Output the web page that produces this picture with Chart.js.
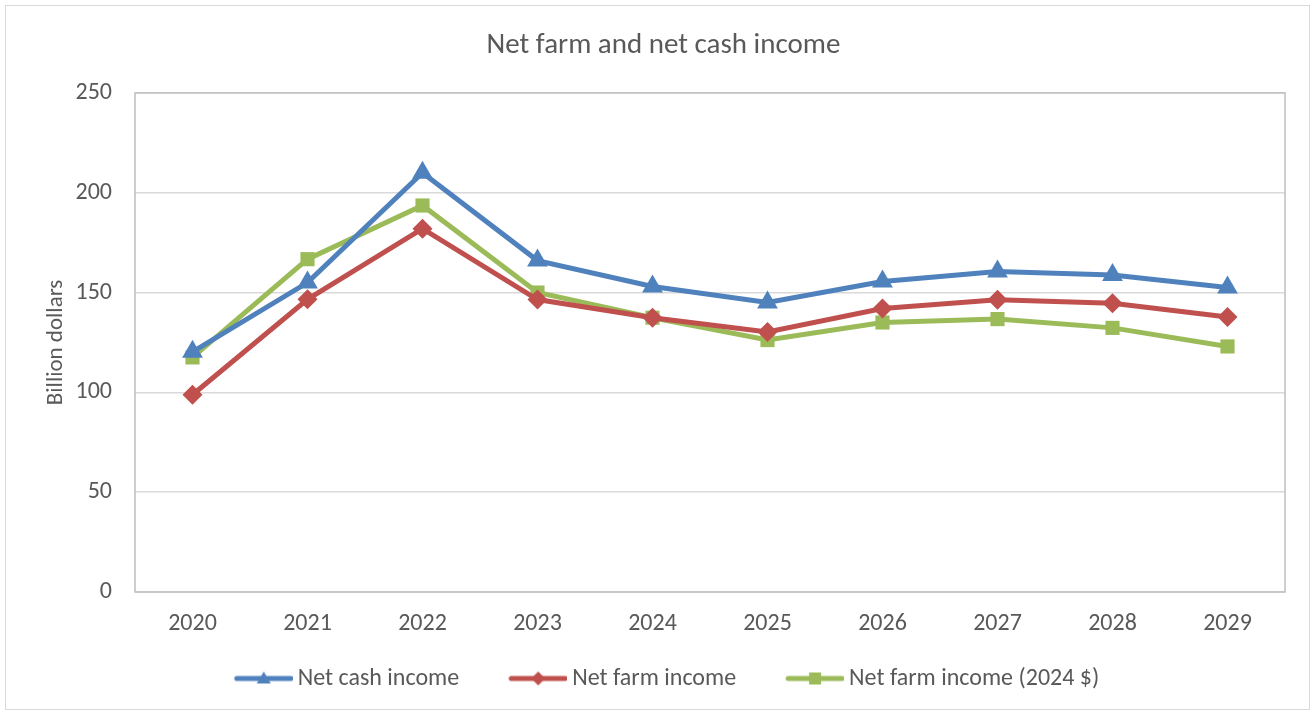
<!DOCTYPE html>
<html>
<head>
<meta charset="utf-8">
<title>Net farm and net cash income</title>
<script src="https://cdn.jsdelivr.net/npm/chart.js@4.4.0/dist/chart.umd.min.js"></script>
<style>
  html, body { margin: 0; padding: 0; background: #fff; }
  #wrap { width: 1315px; height: 715px; }
</style>
</head>
<body>
<div id="wrap"><canvas id="incomeChart" width="1315" height="715"></canvas></div>
<script>
// billion dollars, by year
const years = ["2020", "2021", "2022", "2023", "2024", "2025", "2026", "2027", "2028", "2029"];
const netCashIncome = [120.3, 155.0, 210.0, 166.0, 153.0, 145.0, 155.5, 160.5, 158.8, 152.5];
const netFarmIncome = [98.8, 146.6, 182.0, 146.5, 137.4, 130.2, 142.0, 146.4, 144.6, 137.8];
const netFarmIncomeReal = [117.5, 166.7, 193.6, 150.0, 137.4, 126.2, 135.0, 136.7, 132.3, 123.0];
const yTicks = [0, 50, 100, 150, 200, 250];

const BLUE = "#4f81bd";
const RED = "#c0504d";
const GREEN = "#9bbb59";
const TEXT = "#595959";
const FONT = "Carlito, Calibri, Lato, sans-serif";

// small line + marker sample for the legend
function legendIcon(color, shape) {
    const c = document.createElement("canvas");
    c.width = 72;
    c.height = 20;
    const g = c.getContext("2d");
    g.strokeStyle = color;
    g.lineWidth = 5;
    g.lineCap = "round";
    g.beginPath();
    g.moveTo(16, 10);
    g.lineTo(70, 10);
    g.stroke();
    g.fillStyle = color;
    const cx = 43, cy = 10;
    g.beginPath();
    if (shape === "triangle") {
        g.moveTo(cx, cy - 7);
        g.lineTo(cx + 7, cy + 5);
        g.lineTo(cx - 7, cy + 5);
    } else if (shape === "diamond") {
        g.moveTo(cx, cy - 7);
        g.lineTo(cx + 7, cy);
        g.lineTo(cx, cy + 7);
        g.lineTo(cx - 7, cy);
    } else {
        g.rect(cx - 6, cy - 6, 12, 12);
    }
    g.closePath();
    g.fill();
    return c;
}

const icons = [
    legendIcon(BLUE, "triangle"),
    legendIcon(RED, "diamond"),
    legendIcon(GREEN, "square")
];

// outer frame and plot-area border
const frames = {
    id: "frames",
    afterLayout(chart) {
        // x axis box is squeezed, so let its labels run below it unclipped
        chart.scales.x.bottom = chart.height;
    },
    beforeDraw(chart) {
        const ctx = chart.ctx;
        ctx.save();
        ctx.strokeStyle = "#d9d9d9";
        ctx.lineWidth = 1;
        ctx.strokeRect(5.5, 5.5, 1304, 704);
        ctx.restore();
    },
    beforeDatasetsDraw(chart) {
        const a = chart.chartArea;
        const ctx = chart.ctx;
        ctx.save();
        ctx.strokeStyle = "#bfbfbf";
        ctx.lineWidth = 1.5;
        ctx.strokeRect(a.left, a.top, a.right - a.left, a.bottom - a.top);
        ctx.restore();
    }
};

function series(label, data, color, style, radius) {
    return {
        label: label,
        data: data,
        borderColor: color,
        backgroundColor: color,
        borderWidth: 5,
        pointStyle: style,
        pointRadius: radius,
        pointHoverRadius: radius,
        pointBorderWidth: 0,
        pointBackgroundColor: color,
        tension: 0
    };
}

new Chart(document.getElementById("incomeChart"), {
    type: "line",
    data: {
        labels: years,
        datasets: [
            series("Net cash income", netCashIncome, BLUE, "triangle", 12),
            series("Net farm income", netFarmIncome, RED, "rectRot", 10),
            series("Net farm income (2024 $)", netFarmIncomeReal, GREEN, "rect", 10)
        ]
    },
    options: {
        responsive: false,
        animation: false,
        layout: { padding: { top: 14, left: 42, right: 30, bottom: 14.5 } },
        plugins: {
            title: {
                display: true,
                text: "Net farm and net cash income",
                color: TEXT,
                font: { family: FONT, size: 29, weight: "normal" },
                padding: { top: 14.5, bottom: 29.6 }
            },
            legend: {
                position: "bottom",
                labels: {
                    usePointStyle: true,
                    pointStyleWidth: 58,
                    padding: 43,
                    color: TEXT,
                    font: { family: FONT, size: 24 },
                    generateLabels(chart) {
                        return chart.data.datasets.map((ds, i) => ({
                            text: ds.label,
                            pointStyle: icons[i],
                            fillStyle: ds.borderColor,
                            strokeStyle: ds.borderColor,
                            lineWidth: 0,
                            fontColor: TEXT,
                            datasetIndex: i,
                            hidden: false
                        }));
                    }
                }
            },
            tooltip: { enabled: false }
        },
        scales: {
            x: {
                offset: true,
                afterFit(scale) {
                    scale.height = 31.5;
                },
                grid: { display: false, drawTicks: false },
                border: { display: false },
                ticks: {
                    color: TEXT,
                    padding: 18,
                    font: { family: FONT, size: 24 }
                }
            },
            y: {
                min: 0,
                max: 250,
                afterBuildTicks(scale) {
                    scale.ticks = yTicks.map(v => ({ value: v }));
                },
                afterFit(scale) {
                    scale.width = 93;
                },
                grid: { color: "#d9d9d9", lineWidth: 1.5, drawTicks: false },
                border: { display: false },
                ticks: {
                    color: TEXT,
                    padding: 23,
                    font: { family: FONT, size: 24 }
                },
                title: {
                    display: true,
                    text: "Billion dollars",
                    color: TEXT,
                    font: { family: FONT, size: 23 },
                    padding: { top: 0, bottom: 0 }
                }
            }
        }
    },
    plugins: [frames]
});
</script>
</body>
</html>
